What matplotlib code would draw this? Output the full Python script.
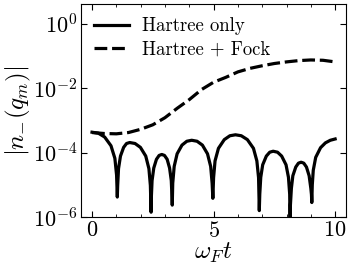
import numpy as np
import matplotlib
matplotlib.use("Agg")
import matplotlib.pyplot as plt
from matplotlib.ticker import MultipleLocator, NullLocator, FixedLocator

plt.rcParams['font.family'] = 'serif'
plt.rcParams['font.serif'] = ['cmr10', 'DejaVu Serif']
plt.rcParams['mathtext.fontset'] = 'cm'
plt.rcParams['axes.formatter.use_mathtext'] = True

# Hartree only: t 与 log10|n_-(q_m)|
t_hartree = [0, 0.26, 0.52, 0.78, 0.94, 1.01, 1.04,
             1.055, 1.09, 1.17, 1.30, 1.42, 1.55, 1.77, 1.99, 2.21, 2.34, 2.40, 2.43,
             2.44, 2.47, 2.54, 2.65, 2.76, 2.87, 2.98, 3.09, 3.19, 3.26, 3.29, 3.30,
             3.32, 3.38, 3.50, 3.70, 3.90, 4.10, 4.32, 4.54, 4.75, 4.88, 4.94, 4.97,
             5.00, 5.06, 5.20, 5.44, 5.67, 5.90, 6.14, 6.39, 6.64, 6.78, 6.85, 6.88,
             6.90, 6.94, 7.02, 7.17, 7.31, 7.45, 7.63, 7.80, 7.98, 8.08, 8.13, 8.15,
             8.16, 8.20, 8.26, 8.38, 8.49, 8.60, 8.71, 8.82, 8.93, 9.00, 9.025, 9.04,
             9.06, 9.10, 9.20, 9.40, 9.60, 9.80, 10.0]
log_hartree = [-3.37, -3.40, -3.52, -3.79, -4.18, -4.70, -5.38,
               -5.02, -4.50, -4.11, -3.84, -3.72, -3.69, -3.72, -3.84, -4.11, -4.50, -5.02, -5.85,
               -5.39, -4.87, -4.48, -4.21, -4.09, -4.06, -4.09, -4.21, -4.48, -4.87, -5.39, -5.63,
               -4.95, -4.43, -4.04, -3.77, -3.65, -3.62, -3.65, -3.77, -4.04, -4.43, -4.95, -5.42,
               -4.78, -4.26, -3.87, -3.60, -3.48, -3.45, -3.48, -3.60, -3.87, -4.26, -4.78, -5.80,
               -5.29, -4.77, -4.38, -4.11, -3.99, -3.96, -3.99, -4.11, -4.38, -4.77, -5.29, -6.40,
               -5.63, -5.11, -4.72, -4.45, -4.33, -4.30, -4.33, -4.45, -4.72, -5.11, -5.30, -5.55,
               -5.00, -4.55, -4.15, -3.85, -3.70, -3.62, -3.58]

# Hartree + Fock
t_fock = [0, 0.5, 1.0, 1.5, 2.0, 2.5, 3.0, 3.5, 4.0, 4.5, 5.0,
          5.5, 6.0, 6.5, 7.0, 7.5, 8.0, 8.5, 9.0, 9.5, 10.0]
log_fock = [-3.38, -3.41, -3.42, -3.38, -3.28, -3.14, -2.92, -2.63, -2.36, -2.05, -1.82,
            -1.67, -1.50, -1.39, -1.31, -1.24, -1.19, -1.15, -1.13, -1.14, -1.19]

y_hartree = 10.0 ** np.array(log_hartree)
y_fock = 10.0 ** np.array(log_fock)

fig = plt.figure(figsize=(3.51, 2.73), dpi=100)
ax = fig.add_axes([0.231, 0.205, 0.755, 0.78])

ax.plot(t_hartree, y_hartree, "k-", lw=2.3, label="Hartree only")
ax.plot(t_fock, y_fock, "k--", lw=2.3, dashes=(4.0, 1.5), label="Hartree + Fock")

ax.set_yscale("log")
ax.set_xlim(-0.45, 10.45)
ax.set_ylim(1e-6, 4)
ax.yaxis.set_major_locator(FixedLocator([1e-6, 1e-4, 1e-2, 1e0]))
ax.yaxis.set_minor_locator(NullLocator())
ax.xaxis.set_major_locator(MultipleLocator(5))
ax.xaxis.set_minor_locator(MultipleLocator(1))
ax.tick_params(which="both", direction="in", top=True, right=True, labelsize=16)
ax.tick_params(which="major", length=4.5)
ax.tick_params(which="minor", length=2.5)
ax.tick_params(axis="x", pad=2.5)
ax.tick_params(axis="y", pad=2.5)

ax.set_xlabel(r"$\omega_F t$", fontsize=18, labelpad=0)
ax.set_ylabel(r"$|n_{-}(q_m)|$", fontsize=18, labelpad=0)
ax.legend(loc="upper left", frameon=False, fontsize=13.5, handlelength=1.85,
          handletextpad=0.7, borderaxespad=0.3, labelspacing=0.3)

plt.savefig("out.png", dpi=100)
plt.close()
